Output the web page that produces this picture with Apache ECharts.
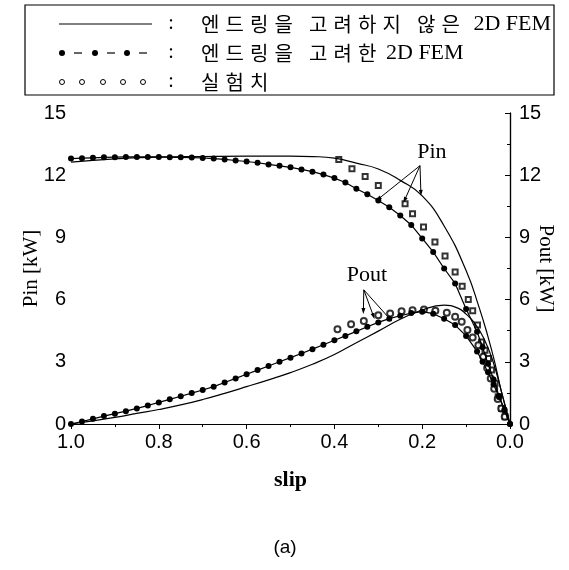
<!DOCTYPE html>
<html>
<head>
<meta charset="utf-8">
<script src="https://cdn.jsdelivr.net/npm/echarts@6/dist/echarts.min.js"></script>
<style>
  html, body { margin: 0; padding: 0; background: #fff; }
  #main { width: 569px; height: 570px; }
</style>
</head>
<body>
<div id="main"></div>
<script>
// 슬립-입출력 특성 (엔드링 고려 여부)
// 엔드링을 고려하지 않은 2D FEM (실선)
const slipNoRing = [1.0, 0.9, 0.8, 0.7, 0.6, 0.5, 0.45, 0.4, 0.35, 0.3, 0.25, 0.2, 0.15, 0.1, 0.07, 0.05, 0.035, 0.02, 0.0]
const pinNoRing = [12.63, 12.79, 12.87, 12.9, 12.92, 12.92, 12.9, 12.82, 12.58, 12.3, 11.75, 11.0, 9.55, 7.4, 5.6, 4.2, 3.0, 1.6, 0]
const slipNoRingOut = [1.0, 0.95, 0.9, 0.85, 0.8, 0.75, 0.7, 0.65, 0.6, 0.55, 0.5, 0.45, 0.4, 0.35, 0.3, 0.25, 0.2, 0.15, 0.12, 0.1, 0.08, 0.06, 0.04, 0.02, 0.0]
const poutNoRing = [0, 0.15, 0.32, 0.51, 0.7, 0.92, 1.18, 1.48, 1.8, 2.13, 2.48, 2.88, 3.35, 3.92, 4.48, 5.05, 5.5, 5.73, 5.6, 5.3, 4.85, 4.15, 3.1, 1.6, 0]

// 엔드링을 고려한 2D FEM (점선)
const slipRing = [1.0, 0.975, 0.95, 0.925, 0.9, 0.875, 0.85, 0.825, 0.8, 0.775, 0.75, 0.725, 0.7, 0.675, 0.65, 0.625, 0.6, 0.575, 0.55, 0.525, 0.5, 0.475, 0.45, 0.425, 0.4, 0.375, 0.35, 0.325, 0.3, 0.275, 0.25, 0.225, 0.2, 0.175, 0.15, 0.125, 0.1, 0.075, 0.0625, 0.05, 0.0375, 0.025, 0.0125, 0.0]
const pinRing = [12.8, 12.82, 12.84, 12.86, 12.87, 12.88, 12.88, 12.88, 12.88, 12.87, 12.86, 12.85, 12.83, 12.8, 12.76, 12.71, 12.66, 12.6, 12.52, 12.45, 12.38, 12.28, 12.17, 12.03, 11.86, 11.65, 11.35, 11.08, 10.78, 10.45, 10.06, 9.6, 8.95, 8.3, 7.5, 6.78, 5.55, 4.45, 3.7, 2.9, 2.15, 1.35, 0.7, 0]
const poutRing = [0, 0.12, 0.25, 0.38, 0.5, 0.62, 0.75, 0.89, 1.04, 1.19, 1.34, 1.49, 1.64, 1.8, 2.0, 2.2, 2.4, 2.6, 2.8, 3.0, 3.2, 3.4, 3.61, 3.82, 4.04, 4.25, 4.47, 4.69, 4.9, 5.08, 5.22, 5.35, 5.42, 5.32, 5.08, 4.77, 4.25, 3.5, 3.0, 2.5, 1.9, 1.3, 0.65, 0]

// 실험치
const slipExpIn = [0.39, 0.36, 0.33, 0.3, 0.239, 0.222, 0.197, 0.171, 0.148, 0.125, 0.109, 0.095, 0.085, 0.074, 0.065, 0.057, 0.049, 0.042, 0.034, 0.027, 0.019, 0.011]
const pinExp = [12.76, 12.31, 11.94, 11.5, 10.62, 10.14, 9.5, 8.78, 8.1, 7.33, 6.64, 6.0, 5.46, 4.77, 3.96, 3.56, 3.16, 2.6, 1.97, 1.31, 0.75, 0.35]
const slipExpOut = [0.393, 0.362, 0.333, 0.3, 0.273, 0.247, 0.222, 0.196, 0.17, 0.144, 0.125, 0.11, 0.097, 0.085, 0.072, 0.061, 0.052, 0.044, 0.036, 0.028, 0.02, 0.012]
const poutExp = [4.57, 4.81, 4.97, 5.25, 5.33, 5.44, 5.49, 5.52, 5.46, 5.36, 5.17, 4.93, 4.53, 4.17, 3.8, 3.24, 2.7, 2.2, 1.7, 1.2, 0.75, 0.35]

// 범례 문구
const legendWords = [
  ['엔드링을', '고려하지', '않은'],
  ['엔드링을', '고려한'],
  ['실험치']
]

const zip = (xs, ys) => xs.map((x, i) => [x, ys[i]])

const numFont = { fontFamily: 'Liberation Sans', fontSize: 20, color: '#000' }
const serif = 'Liberation Serif'
const kr = 'Noto Sans CJK KR'

const myChart = echarts.init(document.getElementById('main'))

const lineSeries = (name, data, yIdx, dotted) => ({
  name,
  type: 'line',
  yAxisIndex: yIdx,
  data,
  smooth: !dotted,
  showSymbol: !!dotted,
  symbol: 'circle',
  symbolSize: 6,
  itemStyle: { color: '#000' },
  lineStyle: { color: '#000', width: 1.2 },
  silent: true,
  animation: false
})

const arrowLines = [
  [[0.205, 12.46], [0.30, 10.85]],
  [[0.205, 12.46], [0.24, 10.8]],
  [[0.205, 12.46], [0.203, 11.15]],
  [[0.333, 6.47], [0.334, 5.45]],
  [[0.333, 6.47], [0.311, 5.2]],
  [[0.333, 6.47], [0.273, 5.05]]
]

const pinSolid = lineSeries('pinNoRing', zip(slipNoRing, pinNoRing), 0, false)
pinSolid.markLine = {
  silent: true,
  symbol: ['none', 'triangle'],
  symbolSize: [4, 6],
  label: { show: false },
  lineStyle: { color: '#000', width: 1, type: 'solid' },
  data: arrowLines.map(([a, b]) => [{ coord: a }, { coord: b }])
}
pinSolid.markPoint = {
  silent: true,
  symbol: 'rect',
  symbolSize: 0,
  label: { show: true, position: 'inside', color: '#000', fontFamily: serif, fontSize: 22, formatter: p => p.name },
  data: [
    { name: 'Pin', coord: [0.178, 13.1] },
    { name: 'Pout', coord: [0.326, 7.2] }
  ]
}

// 글자 간격이 넓은 한글 범례 (한 글자씩 배치)
const rowY = [24, 53, 82]
const pitch = 24.5
const wordGap = 10
const legendText = []
legendWords.forEach((words, r) => {
  let x = 201
  words.forEach(w => {
    Array.from(w).forEach(ch => {
      legendText.push({ type: 'text', x, y: rowY[r], style: { text: ch, fontFamily: kr, fontSize: 20, fill: '#000', verticalAlign: 'middle' } })
      x += pitch
    })
    x += wordGap
  })
})

myChart.setOption({
  animation: false,
  grid: { left: 71, right: 59, top: 113, bottom: 146 },
  xAxis: [
    {
      type: 'value', inverse: true, min: 0, max: 1, interval: 0.2,
      name: 'slip', nameLocation: 'middle', nameGap: 45,
      nameTextStyle: { fontFamily: serif, fontSize: 22, fontWeight: 'bold', color: '#000' },
      axisLine: { lineStyle: { color: '#000', width: 1.2 } },
      axisTick: { length: 5, lineStyle: { color: '#000' } },
      minorTick: { show: true, splitNumber: 2, length: 3, lineStyle: { color: '#000' } },
      axisLabel: { ...numFont, margin: 8, formatter: v => v.toFixed(1) },
      splitLine: { show: false }
    },
    {
      type: 'value', inverse: true, min: 0, max: 1, position: 'top',
      axisLine: { show: true, lineStyle: { color: '#000', width: 1.2 } },
      axisTick: { show: false }, axisLabel: { show: false }, splitLine: { show: false }
    }
  ],
  yAxis: [
    {
      type: 'value', min: 0, max: 15, interval: 3, position: 'left',
      name: 'Pin [kW]', nameLocation: 'middle', nameGap: 29, nameMoveOverlap: false,
      nameTextStyle: { fontFamily: serif, fontSize: 21, color: '#000' },
      axisLine: { show: true, lineStyle: { color: '#000', width: 1.2 } },
      axisTick: { length: 4, lineStyle: { color: '#000' } },
      minorTick: { show: true, splitNumber: 2, length: 3, lineStyle: { color: '#000' } },
      axisLabel: { ...numFont, margin: 5 },
      splitLine: { show: false }
    },
    {
      type: 'value', min: 0, max: 15, interval: 3, position: 'right',
      name: 'Pout [kW]', nameLocation: 'middle', nameGap: 25, nameRotate: -90, nameMoveOverlap: false,
      nameTextStyle: { fontFamily: serif, fontSize: 21, color: '#000' },
      axisLine: { show: true, lineStyle: { color: '#000', width: 1.2 } },
      axisTick: { inside: true, length: 5, lineStyle: { color: '#000' } },
      minorTick: { show: true, splitNumber: 2, length: 3, lineStyle: { color: '#000' } },
      axisLabel: { ...numFont, margin: 9 },
      splitLine: { show: false }
    }
  ],
  series: [
    pinSolid,
    lineSeries('poutNoRing', zip(slipNoRingOut, poutNoRing), 1, false),
    lineSeries('pinRing', zip(slipRing, pinRing), 0, true),
    lineSeries('poutRing', zip(slipRing, poutRing), 1, true),
    {
      name: 'pinExp', type: 'scatter', data: zip(slipExpIn, pinExp),
      symbol: 'emptyRect', symbolSize: 5, silent: true,
      itemStyle: { color: '#000', borderColor: '#000', borderWidth: 1 }
    },
    {
      name: 'poutExp', type: 'scatter', yAxisIndex: 1, data: zip(slipExpOut, poutExp),
      symbol: 'emptyCircle', symbolSize: 6, silent: true,
      itemStyle: { color: '#000', borderColor: '#000', borderWidth: 1 }
    }
  ],
  graphic: [
    { type: 'rect', shape: { x: 25, y: 5, width: 529, height: 90 }, style: { fill: 'none', stroke: '#000', lineWidth: 1.2 } },
    // 범례 견본
    { type: 'line', shape: { x1: 59, y1: rowY[0], x2: 152, y2: rowY[0] }, style: { stroke: '#000', lineWidth: 1.2 } },
    ...[62, 95, 127].map(x => ({ type: 'circle', shape: { cx: x, cy: rowY[1], r: 3 }, style: { fill: '#000' } })),
    ...[74, 107, 139].map(x => ({ type: 'line', shape: { x1: x, y1: rowY[1], x2: x + 8, y2: rowY[1] }, style: { stroke: '#000', lineWidth: 1.2 } })),
    ...[62, 82, 103, 123, 143].map(x => ({ type: 'circle', shape: { cx: x, cy: rowY[2], r: 2.5 }, style: { fill: '#fff', stroke: '#000', lineWidth: 1 } })),
    ...rowY.map(y => ({ type: 'text', x: 171, y, style: { text: ':', fontFamily: serif, fontSize: 20, fill: '#000', align: 'center', verticalAlign: 'middle' } })),
    ...legendText,
    { type: 'text', x: 551, y: rowY[0], style: { text: '2D FEM', fontFamily: serif, fontSize: 22, fill: '#000', align: 'right', verticalAlign: 'middle' } },
    { type: 'text', x: 386, y: rowY[1], style: { text: '2D FEM', fontFamily: serif, fontSize: 22, fill: '#000', verticalAlign: 'middle' } },
    { type: 'text', x: 285, y: 548, style: { text: '(a)', fontFamily: 'Liberation Sans', fontSize: 19, fill: '#000', align: 'center', verticalAlign: 'middle' } }
  ]
})
</script>
</body>
</html>
